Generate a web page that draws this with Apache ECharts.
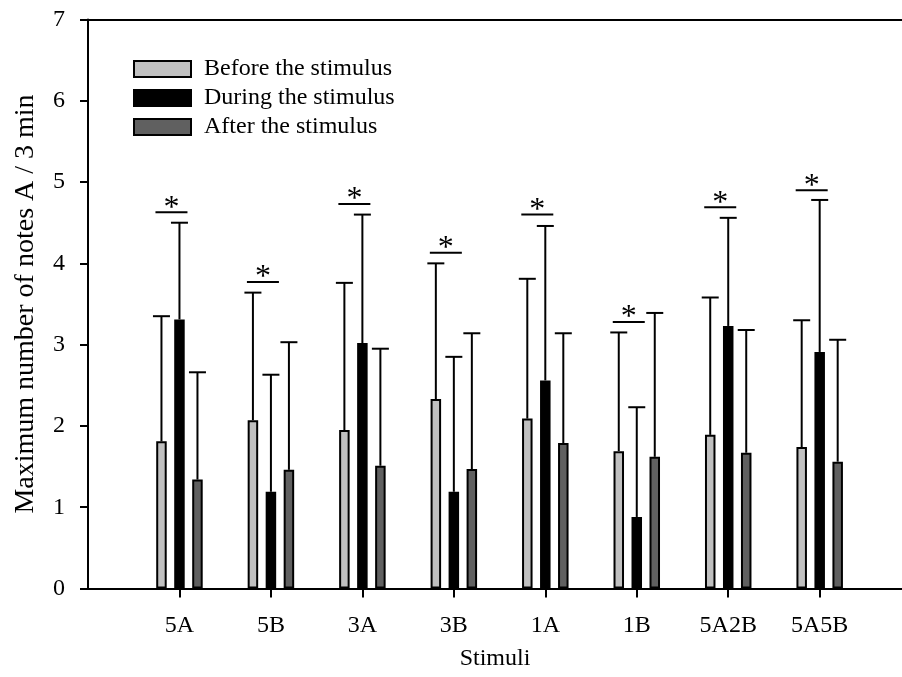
<!DOCTYPE html>
<html>
<head>
<meta charset="utf-8">
<script src="https://cdn.jsdelivr.net/npm/echarts@6/dist/echarts.min.js"></script>
<style>html,body{margin:0;padding:0;background:#fff}#c{width:902px;height:677px}</style>
</head>
<body>
<div id="c"></div>
<script>
var categories = ['5A', '5B', '3A', '3B', '1A', '1B', '5A2B', '5A5B'];
var positions = [1, 2, 3, 4, 5, 6, 7, 8];
var beforeMean = [1.81, 2.07, 1.95, 2.33, 2.09, 1.69, 1.89, 1.74];
var beforeErrTop = [3.35, 3.64, 3.76, 4.00, 3.81, 3.15, 3.58, 3.30];
var duringMean = [3.31, 1.19, 3.02, 1.19, 2.56, 0.88, 3.23, 2.91];
var duringErrTop = [4.50, 2.63, 4.60, 2.85, 4.46, 2.23, 4.56, 4.78];
var afterMean = [1.34, 1.46, 1.51, 1.47, 1.79, 1.62, 1.67, 1.56];
var afterErrTop = [2.66, 3.03, 2.95, 3.14, 3.14, 3.39, 3.18, 3.06];
var sigLevel = [4.63, 3.77, 4.73, 4.13, 4.60, 3.28, 4.69, 4.90];
var yTicks = [0, 1, 2, 3, 4, 5, 6, 7];
var seriesNames = ['Before the stimulus', 'During the stimulus', 'After the stimulus'];

var FONT = '"Liberation Serif", "Times New Roman", serif';
var colors = ['#c0c0c0', '#000000', '#606060'];
var means = [beforeMean, duringMean, afterMean];
var errs = [beforeErrTop, duringErrTop, afterErrTop];
var offsets = [-18, 0, 18];

var chart = echarts.init(document.getElementById('c'));
var series = [];
for (var s = 0; s < 3; s++) {
  series.push({
    name: seriesNames[s],
    type: 'bar',
    xAxisIndex: 0,
    barWidth: 10.5,
    barGap: '71.4%',
    itemStyle: { color: colors[s], borderColor: '#000', borderWidth: 2 },
    data: positions.map(function (p, i) { return [p, means[s][i]]; }),
    z: 2
  });
}
for (var s2 = 0; s2 < 3; s2++) {
  (function (s) {
    series.push({
      name: 'err' + s,
      type: 'custom',
      xAxisIndex: 0,
      encode: { x: 0, y: [1, 2] },
      data: positions.map(function (p, i) { return [p, means[s][i], errs[s][i]]; }),
      renderItem: function (params, api) {
        var b = api.coord([api.value(0), api.value(1)]);
        var t = api.coord([api.value(0), api.value(2)]);
        var x = b[0] + offsets[s];
        var st = { stroke: '#000', lineWidth: 2 };
        return {
          type: 'group',
          children: [
            { type: 'line', shape: { x1: x, y1: b[1], x2: x, y2: t[1] }, style: st },
            { type: 'line', shape: { x1: x - 8.5, y1: t[1], x2: x + 8.5, y2: t[1] }, style: st }
          ]
        };
      },
      z: 1
    });
  })(s2);
}
series.push({
  name: 'sig',
  type: 'custom',
  xAxisIndex: 0,
  encode: { x: 0, y: 1 },
  data: positions.map(function (p, i) { return [p, sigLevel[i]]; }),
  renderItem: function (params, api) {
    var c = api.coord([api.value(0), api.value(1)]);
    var cx = c[0] - 8;
    return {
      type: 'group',
      children: [
        { type: 'line', shape: { x1: cx - 16, y1: c[1], x2: cx + 16, y2: c[1] }, style: { stroke: '#000', lineWidth: 2 } },
        { type: 'text', x: cx, y: c[1] - 4, style: { text: '*', font: '32px ' + FONT, fill: '#000', align: 'center', verticalAlign: 'middle' } }
      ]
    };
  },
  z: 3
});

chart.setOption({
  animation: false,
  backgroundColor: '#fff',
  grid: { left: 88, right: 0, top: 19.5, bottom: 88.5, containLabel: false },
  legend: {
    orient: 'vertical',
    left: 128,
    top: 52,
    icon: 'rect',
    itemWidth: 57,
    itemHeight: 16,
    itemGap: 5,
    data: seriesNames,
    itemStyle: { borderColor: '#000', borderWidth: 2 },
    textStyle: { fontFamily: FONT, fontSize: 24, color: '#000', padding: [0, 0, 0, 8] }
  },
  xAxis: [{
    type: 'value',
    min: 0,
    max: 8.9,
    interval: 1,
    position: 'bottom',
    name: 'Stimuli',
    nameLocation: 'middle',
    nameGap: 58,
    nameTextStyle: { fontFamily: FONT, fontSize: 24, color: '#000' },
    axisLine: { show: true, onZero: false, lineStyle: { color: '#000', width: 2 } },
    axisTick: { show: true, customValues: positions, length: 9, lineStyle: { color: '#000', width: 2 } },
    axisLabel: {
      customValues: positions,
      margin: 25,
      fontFamily: FONT, fontSize: 24, color: '#000',
      formatter: function (v) { return categories[Math.round(v) - 1] || ''; }
    },
    splitLine: { show: false }
  }, {
    type: 'value',
    min: 0,
    max: 8.9,
    position: 'top',
    axisLine: { show: true, onZero: false, lineStyle: { color: '#000', width: 2 } },
    axisTick: { show: false },
    axisLabel: { show: false },
    splitLine: { show: false }
  }],
  yAxis: {
    type: 'value',
    min: 0,
    max: 7,
    interval: 1,
    name: 'Maximum number of notes A / 3 min',
    nameLocation: 'middle',
    nameGap: 48,
    nameTextStyle: { fontFamily: FONT, fontSize: 28, color: '#000' },
    axisLine: { show: true, lineStyle: { color: '#000', width: 2 } },
    axisTick: { show: true, length: 8, lineStyle: { color: '#000', width: 2 } },
    axisLabel: { margin: 23, fontFamily: FONT, fontSize: 24, color: '#000',
      formatter: function (v) { return yTicks.indexOf(v) >= 0 ? String(v) : ''; } },
    splitLine: { show: false }
  },
  series: series
});
</script>
</body>
</html>
